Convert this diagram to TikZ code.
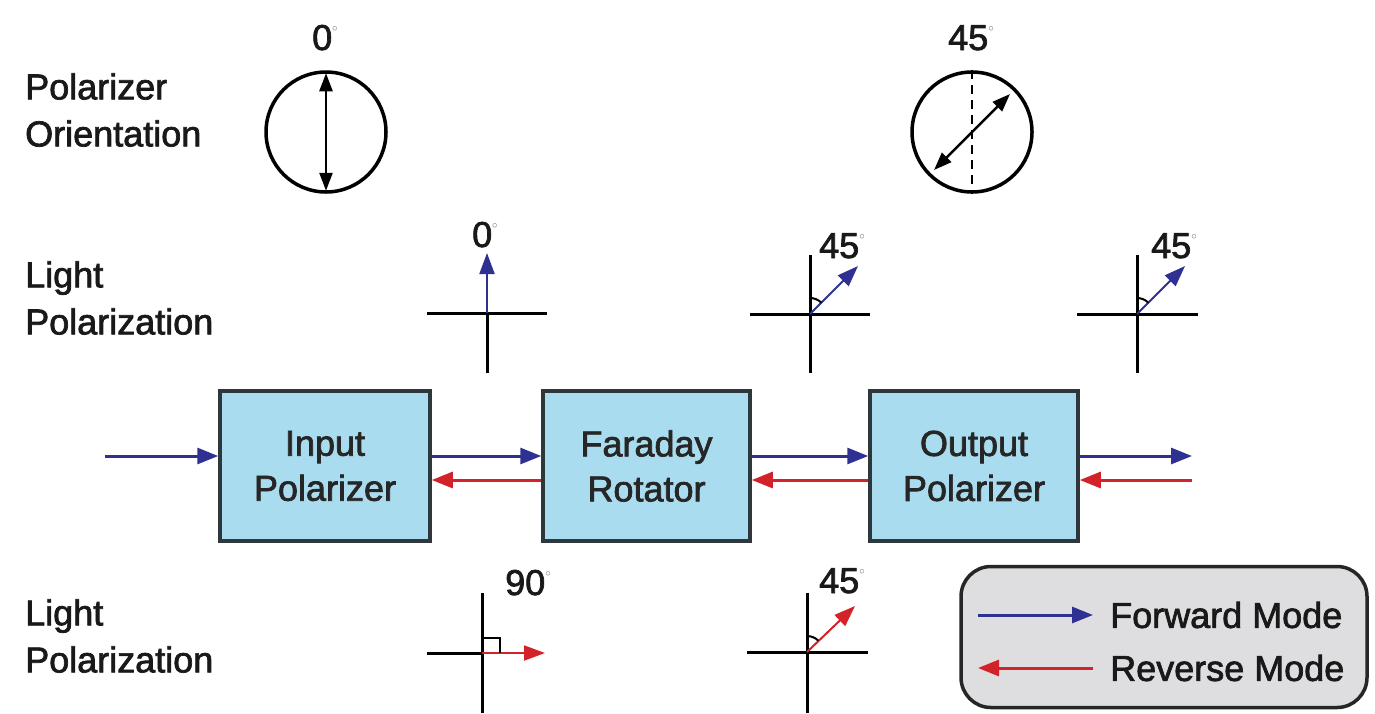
\documentclass[tikz,border=0pt]{standalone}
\usepackage{fontspec}
\setmainfont{Liberation Sans}
\newfontfamily\heavy{Liberation Sans}[UprightFeatures={FakeBold=2}]
\usetikzlibrary{arrows.meta}
\definecolor{fblue}{RGB}{46,49,146}
\definecolor{rred}{RGB}{210,35,42}
\definecolor{boxfill}{RGB}{170,220,240}
\definecolor{boxline}{RGB}{45,55,60}
\definecolor{legfill}{RGB}{222,222,224}
\newcommand\dg{\raisebox{19pt}{\fontsize{11}{11}\selectfont\color{black!55}$\circ$}}
\tikzset{
  txt/.style={font=\heavy\fontsize{36}{47}\selectfont, text=black!90, inner sep=0pt},
  optbox/.style={draw=boxline, line width=3.5pt, fill=boxfill, minimum height=150pt,
    align=center, font=\heavy\fontsize{36}{45}\selectfont, text=black!85},
  fwd/.style={draw=fblue, line width=3pt, -{Triangle[length=21pt,width=16pt]}},
  rev/.style={draw=rred, line width=3pt, -{Triangle[length=21pt,width=16pt]}},
  fvec/.style={draw=fblue, line width=2pt, -{Triangle[length=21pt,width=15pt]}},
  rvec/.style={draw=rred, line width=2pt, -{Triangle[length=21pt,width=15pt]}},
  axisline/.style={draw=black, line width=3pt},
  pol/.style={draw=black, line width=3.5pt, circle, minimum size=120pt, inner sep=0pt},
  polarrow/.style={line width=2.5pt, {Triangle[length=18pt,width=13pt]}-{Triangle[length=18pt,width=13pt]}},
  anglemark/.style={draw=black, line width=2pt}
}
\begin{document}
\begin{tikzpicture}[x=1pt,y=-1pt]
\useasboundingbox (0,0) rectangle (1375,713);

% left labels
\node[txt, anchor=west, align=left] (lab1) at (25,110) {Polarizer\\Orientation};
\node[txt, anchor=west, align=left] (lab2) at (25,298) {Light\\Polarization};
\node[txt, anchor=west, align=left] (lab3) at (25,636) {Light\\Polarization};

% polarizer circles
\node[pol] (c1) at (326,132) {};
\draw[polarrow, shorten <=3pt, shorten >=3pt] (c1.north) -- (c1.south);
\node[txt, anchor=base west] (d1) at (312,50) {0\dg};

\node[pol] (c2) at (972,132) {};
\draw[line width=2.5pt, dash pattern=on 9pt off 6pt] (c2.north) -- (c2.south);
\draw[polarrow, shorten <=8pt, shorten >=8pt] (c2.225) -- (c2.45);
\node[txt, anchor=base west] (d2) at (948,50) {45\dg};

% boxes
\node[optbox, minimum width=210pt] (ip) at (325,466) {Input\\Polarizer};
\node[optbox, minimum width=207pt] (fr) at (646.5,466) {Faraday\\Rotator};
\node[optbox, minimum width=208pt] (op) at (974,466) {Output\\Polarizer};

\coordinate (inL) at (105,456);
\coordinate (outR) at (1192,466);
\draw[fwd] (inL) -- (inL -| ip.west);
\draw[fwd] ([yshift=10pt]ip.east) -- ([yshift=10pt]fr.west);
\draw[rev] ([yshift=-14pt]fr.west) -- ([yshift=-14pt]ip.east);
\draw[fwd] ([yshift=10pt]fr.east) -- ([yshift=10pt]op.west);
\draw[rev] ([yshift=-14pt]op.west) -- ([yshift=-14pt]fr.east);
\draw[fwd] ([yshift=10pt]op.east) -- ([yshift=10pt]outR);
\draw[rev] ([yshift=-14pt]outR) -- ([yshift=-14pt]op.east);

% top axes
\coordinate (a1) at (487,313);
\draw[axisline] ([xshift=-60pt]a1) -- ([xshift=60pt]a1);
\draw[axisline] (a1) -- ([yshift=-60pt]a1);
\coordinate (a1t) at (487,253);
\draw[fvec] (a1) -- (a1t);
\node[txt, anchor=base west] (d3) at (472,247) {0\dg};

\coordinate (a2) at (810,314);
\draw[axisline] ([xshift=-60pt]a2) -- ([xshift=60pt]a2);
\draw[axisline] ([yshift=59pt]a2) -- ([yshift=-59pt]a2);
\coordinate (a2t) at (858,266);
\draw[fvec] (a2) -- (a2t);
\draw[anglemark] ([yshift=16pt]a2) arc[start angle=90, end angle=45, radius=16pt];
\node[txt, anchor=base west] (d4) at (819,258) {45\dg};

\coordinate (a3) at (1137,314);
\draw[axisline] ([xshift=-60pt]a3) -- ([xshift=61pt]a3);
\draw[axisline] ([yshift=59pt]a3) -- ([yshift=-59pt]a3);
\coordinate (a3t) at (1185,266);
\draw[fvec] (a3) -- (a3t);
\draw[anglemark] ([yshift=16pt]a3) arc[start angle=90, end angle=45, radius=16pt];
\node[txt, anchor=base west] (d5) at (1151,258) {45\dg};

% bottom axes
\coordinate (a4) at (482,653);
\draw[axisline] ([xshift=-55pt]a4) -- (a4);
\draw[axisline] ([yshift=60pt]a4) -- ([yshift=-60pt]a4);
\coordinate (a4t) at (545,653);
\draw[rvec] (a4) -- (a4t);
\draw[anglemark] ([yshift=15pt]a4) -- ++(18pt,0) -- ++(0,-15pt);
\node[txt, anchor=base west] (d6) at (505,595) {90\dg};

\coordinate (a5) at (807,652);
\draw[axisline] ([xshift=-60pt]a5) -- ([xshift=61pt]a5);
\draw[axisline] ([yshift=59pt]a5) -- ([yshift=-61pt]a5);
\coordinate (a5t) at (855,606);
\draw[rvec] (a5) -- (a5t);
\draw[anglemark] ([yshift=16pt]a5) arc[start angle=90, end angle=45, radius=16pt];
\node[txt, anchor=base west] (d7) at (819,593) {45\dg};

% legend
\node[draw=black!85, line width=3.5pt, fill=legfill, rounded corners=30pt,
      minimum width=406pt, minimum height=141pt] (leg) at (1164,637) {};
\node[txt, anchor=west] (lf) at (1110,615) {Forward Mode};
\node[txt, anchor=west] (lr) at (1110,668) {Reverse Mode};
\coordinate (lfs) at (978,615);
\coordinate (lre) at (978,668);
\draw[fwd] (lfs) -- ([xshift=-17pt]lf.west);
\draw[rev] ([xshift=-17pt]lr.west) -- (lre);
\end{tikzpicture}
\end{document}
